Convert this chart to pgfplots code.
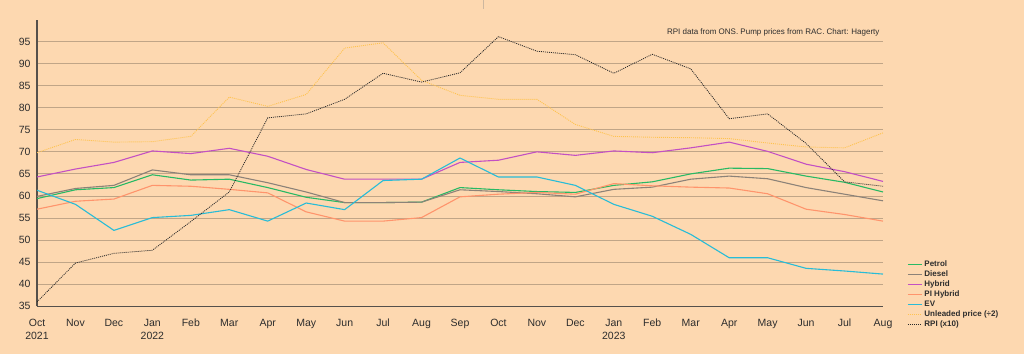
\documentclass[border=0pt]{standalone}
\usepackage{pgfplots}
\pgfplotsset{compat=1.18}
\usepackage{pgfplotstable}
\usepackage{fontspec}
\setmainfont{Liberation Sans}
\definecolor{bgcol}{RGB}{253,216,176}
\definecolor{gridcol}{RGB}{192,165,135}
\definecolor{axcol}{RGB}{85,80,75}
\definecolor{txtcol}{RGB}{45,45,45}
\definecolor{cpetrol}{RGB}{40,185,100}
\definecolor{cdiesel}{RGB}{140,130,120}
\definecolor{chybrid}{RGB}{195,80,195}
\definecolor{cpih}{RGB}{255,148,108}
\definecolor{cev}{RGB}{40,188,215}
\definecolor{cunl}{RGB}{255,195,80}
\definecolor{crpi}{RGB}{40,40,40}
\pgfplotstableread{
m Petrol Diesel Hybrid PIH EV Unl RPI
0 59.4 59.9 64.3 57.0 61.3 69.8 36.0
1 61.4 61.7 66.1 58.8 58.1 72.8 44.8
2 61.9 62.4 67.6 59.3 52.2 72.2 47.0
3 64.8 65.9 70.2 62.4 55.1 72.3 47.7
4 63.6 64.8 69.6 62.2 55.6 73.5 54.2
5 63.8 64.8 70.8 61.5 56.9 82.4 60.9
6 61.9 63.0 69.0 60.7 54.3 80.3 77.7
7 59.7 60.9 66.0 56.4 58.4 83.0 78.6
8 58.5 58.5 63.8 54.3 56.9 93.5 81.9
9 58.5 58.5 63.8 54.3 63.5 94.7 87.8
10 58.6 58.6 63.8 55.1 63.8 86.2 85.8
11 61.9 61.4 67.6 59.8 68.6 82.8 87.9
12 61.4 61.0 68.1 60.4 64.3 81.9 96.1
13 61.0 60.5 70.0 60.8 64.3 81.9 92.8
14 60.8 59.8 69.2 60.4 62.4 76.2 92.0
15 62.4 61.5 70.2 62.8 58.1 73.5 87.8
16 63.2 62.0 69.8 62.3 55.4 73.3 92.1
17 65.0 63.8 70.9 62.0 51.3 73.2 88.8
18 66.3 64.5 72.2 61.8 46.0 73.0 77.5
19 66.2 63.9 70.1 60.5 46.0 72.0 78.6
20 64.5 61.9 67.2 57.0 43.6 71.1 71.9
21 63.1 60.4 65.5 55.8 43.0 70.9 63.2
22 60.9 58.9 63.3 54.3 42.3 74.3 62.2
}\datatable
\begin{document}
\begin{tikzpicture}
\fill[bgcol] (0,0) rectangle (1024pt,354pt);
\draw[gridcol!80!white, line width=0.6pt] (483pt,354pt) -- (483pt,345pt);
\begin{axis}[
  at={(37pt,48pt)}, anchor=south west,
  scale only axis, width=846pt, height=286pt,
  xmin=0, xmax=22, ymin=35, ymax=99.8,
  axis x line=bottom, axis y line=left,
  axis line style={axcol, line width=1.1pt, -},
  xtick={0,...,22},
  xticklabels={{Oct\\2021},Nov,Dec,{Jan\\2022},Feb,Mar,Apr,May,Jun,Jul,Aug,Sep,Oct,Nov,Dec,{Jan\\2023},Feb,Mar,Apr,May,Jun,Jul,Aug},
  xticklabel style={align=center, font=\fontsize{10.5}{13}\selectfont, text=txtcol, yshift=-9pt},
  ytick={35,40,...,95},
  yticklabel style={font=\fontsize{10.5}{12}\selectfont, text=txtcol, xshift=-3pt},
  /pgf/number format/assume math mode=true,
  major tick length=0pt,
  ymajorgrids, grid style={gridcol, line width=0.8pt},
  legend style={at={(1.025,0.175)}, anchor=north west, draw=none, fill=none,
    font=\fontsize{8}{9.6}\selectfont\bfseries, text=txtcol, row sep=-1.2pt,
    legend cell align=left},
  legend image code/.code={\draw[#1] (0pt,0pt) -- (14pt,0pt);},
  every axis plot/.append style={line width=1.1pt},
]
\addplot[cpetrol] table[x=m,y=Petrol]{\datatable};
\addlegendentry{Petrol}
\addplot[cdiesel] table[x=m,y=Diesel]{\datatable};
\addlegendentry{Diesel}
\addplot[chybrid] table[x=m,y=Hybrid]{\datatable};
\addlegendentry{Hybrid}
\addplot[cpih] table[x=m,y=PIH]{\datatable};
\addlegendentry{PI Hybrid}
\addplot[cev] table[x=m,y=EV]{\datatable};
\addlegendentry{EV}
\addplot[cunl, line width=0.9pt, dash pattern=on 1pt off 1pt] table[x=m,y=Unl]{\datatable};
\addlegendentry{Unleaded price (÷2)}
\addplot[crpi, line width=0.8pt, dash pattern=on 1pt off 1pt] table[x=m,y=RPI]{\datatable};
\addlegendentry{RPI (x10)}
\node[anchor=east, font=\fontsize{8}{9.6}\selectfont, text=txtcol] at (rel axis cs:1,0.958) {RPI data from ONS. Pump prices from RAC. Chart: Hagerty};
\end{axis}
\end{tikzpicture}
\end{document}
